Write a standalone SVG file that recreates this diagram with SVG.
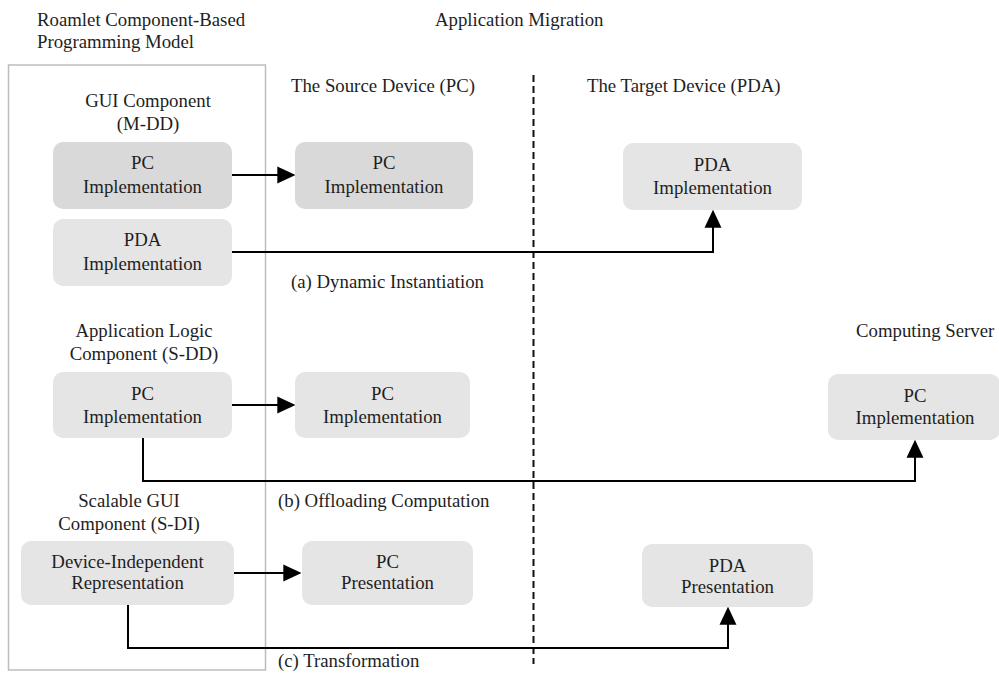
<svg xmlns="http://www.w3.org/2000/svg" width="999" height="673" viewBox="0 0 999 673">
  <style>
    text { font-family: "Liberation Serif", "Times New Roman", serif; font-size: 18.8px; fill: #1e1e1e; }
    .c { text-anchor: middle; }
    .box { fill: #e5e5e5; }
    .box.dark { fill: #d9d9d9; }
    .wire { fill: none; stroke: #000; stroke-width: 2; }
  </style>
  <defs>
    <marker id="head" markerUnits="userSpaceOnUse" markerWidth="18" markerHeight="18" viewBox="0 0 17 16" refX="12" refY="8" orient="auto">
      <path d="M0,0 L17,8 L0,16 z" fill="#000"/>
    </marker>
  </defs>

  <!-- headings -->
  <text x="37" y="26">Roamlet Component-Based</text>
  <text x="37" y="48">Programming Model</text>
  <text x="435" y="26">Application Migration</text>
  <text x="291" y="92">The Source Device (PC)</text>
  <text x="587" y="92">The Target Device (PDA)</text>
  <text x="856" y="337">Computing Server</text>

  <!-- component model frame -->
  <rect x="8.5" y="65" width="257" height="605" fill="none" stroke="#bdbdbd" stroke-width="1.5"/>
  <!-- device boundary -->
  <line x1="533.5" y1="75" x2="533.5" y2="664" stroke="#111" stroke-width="2" stroke-dasharray="7 4"/>

  <!-- section titles -->
  <text class="c" x="148" y="107">GUI Component</text>
  <text class="c" x="148" y="130">(M-DD)</text>
  <text class="c" x="144" y="337">Application Logic</text>
  <text class="c" x="144" y="360">Component (S-DD)</text>
  <text class="c" x="129" y="507">Scalable GUI</text>
  <text class="c" x="129" y="530">Component (S-DI)</text>

  <!-- scenario captions -->
  <text x="291" y="288">(a) Dynamic Instantiation</text>
  <text x="278" y="507">(b) Offloading Computation</text>
  <text x="278" y="667">(c) Transformation</text>

  <!-- connectors -->
  <g id="connectors">
    <path class="wire" d="M232,175 H290" marker-end="url(#head)"/>
    <path class="wire" d="M232,252 H713 V215" marker-end="url(#head)"/>
    <path class="wire" d="M232,405 H290" marker-end="url(#head)"/>
    <path class="wire" d="M143,438 V481 H915 V445" marker-end="url(#head)"/>
    <path class="wire" d="M234,573 H296" marker-end="url(#head)"/>
    <path class="wire" d="M128,605 V648 H728 V612" marker-end="url(#head)"/>
  </g>

  <!-- nodes -->
  <g id="gui-pc">
    <rect class="box dark" x="53" y="142" width="179" height="67" rx="10"/>
    <text class="c" x="142.5" y="169">PC</text>
    <text class="c" x="142.5" y="193">Implementation</text>
  </g>
  <g id="source-pc-a">
    <rect class="box dark" x="295" y="142" width="178" height="67" rx="10"/>
    <text class="c" x="384" y="169">PC</text>
    <text class="c" x="384" y="193">Implementation</text>
  </g>
  <g id="gui-pda">
    <rect class="box" x="53" y="219" width="179" height="67" rx="10"/>
    <text class="c" x="142.5" y="246">PDA</text>
    <text class="c" x="142.5" y="270">Implementation</text>
  </g>
  <g id="target-pda">
    <rect class="box" x="623" y="143" width="179" height="67" rx="10"/>
    <text class="c" x="712.5" y="171">PDA</text>
    <text class="c" x="712.5" y="194">Implementation</text>
  </g>
  <g id="logic-pc">
    <rect class="box" x="53" y="372" width="179" height="66" rx="10"/>
    <text class="c" x="142.5" y="400">PC</text>
    <text class="c" x="142.5" y="423">Implementation</text>
  </g>
  <g id="source-pc-b">
    <rect class="box" x="295" y="372" width="175" height="66" rx="10"/>
    <text class="c" x="382.5" y="400">PC</text>
    <text class="c" x="382.5" y="423">Implementation</text>
  </g>
  <g id="server-pc">
    <rect class="box" x="828" y="374" width="172" height="66" rx="10"/>
    <text class="c" x="915" y="402">PC</text>
    <text class="c" x="915" y="424">Implementation</text>
  </g>
  <g id="device-independent">
    <rect class="box" x="21" y="541" width="213" height="64" rx="10"/>
    <text class="c" x="127.5" y="568">Device-Independent</text>
    <text class="c" x="127.5" y="589">Representation</text>
  </g>
  <g id="pc-presentation">
    <rect class="box" x="302" y="541" width="171" height="64" rx="10"/>
    <text class="c" x="387.5" y="568">PC</text>
    <text class="c" x="387.5" y="589">Presentation</text>
  </g>
  <g id="pda-presentation">
    <rect class="box" x="642" y="544" width="171" height="63" rx="10"/>
    <text class="c" x="727.5" y="572">PDA</text>
    <text class="c" x="727.5" y="593">Presentation</text>
  </g>
</svg>
